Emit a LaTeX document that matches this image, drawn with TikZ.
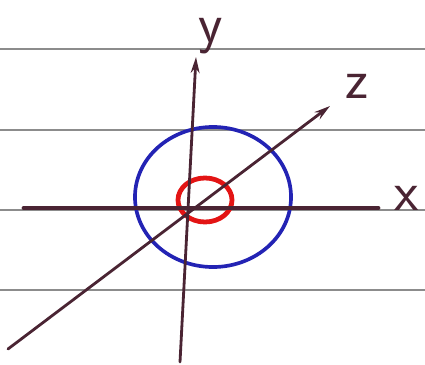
\documentclass[tikz,border=0pt]{standalone}
\usetikzlibrary{arrows.meta, positioning, shapes.geometric}

\definecolor{ink}{HTML}{4A2433}
\definecolor{pen blue}{HTML}{2323B4}
\definecolor{pen red}{HTML}{E31414}
\definecolor{rule gray}{HTML}{8C8C8C}

\begin{document}
\begin{tikzpicture}[
			x=0.025cm, y=-0.025cm,
			ruling/.style={
				draw=rule gray,
				line width=0.9pt
			},
			axis/.style={
				draw=ink,
				line width=2pt,
				line cap=round
			},
			tip/.style={
				-{Stealth[length=4mm, width=2.2mm]}
			},
			axislabel/.style={
				text=ink,
				font=\sffamily\fontsize{40}{40}\selectfont,
				inner sep=0pt
			},
			ring/.style={
				ellipse,
				draw,
				line width=2.6pt,
				inner sep=0pt
			}
			]
			
			% paper size and ruled lines
			\useasboundingbox (0,0) rectangle (425,365);
			\foreach \ry in {49,130,210,290}
				\draw[ruling] (0,\ry) -- (425,\ry);
			
			% Axis end points
			\coordinate (origin) at (188,208);
			\coordinate (xleft) at (24,208);
			\coordinate (xright) at (378,208);
			\coordinate (ybottom) at (180,362);
			\coordinate (ytop) at (196,57);
			\coordinate (zbottom) at (8,349);
			\coordinate (ztop) at (330,106);
			
			% Blue ring (outer)
			\node[ring, draw=pen blue, minimum width=3.9cm, minimum height=3.5cm] (outer) at (213,197) {};
			
			% Red ring (inner)
			\node[ring, draw=pen red, line width=3.4pt, minimum width=1.35cm, minimum height=1.1cm] (inner) at (205,200) {};
			
			% x axis
			\draw[axis, line width=3.4pt] (xleft) -- (xright);
			
			% y axis
			\draw[axis, tip] (ybottom) -- (ytop);
			
			% z axis
			\draw[axis, tip] (zbottom) -- (ztop);
			
			% Labels
			\node[axislabel] (xlabel) at (407,198) {x};
			\node[axislabel] (ylabel) at (211,36) {y};
			\node[axislabel] (zlabel) at (357,86) {z};
			
		\end{tikzpicture}
\end{document}
